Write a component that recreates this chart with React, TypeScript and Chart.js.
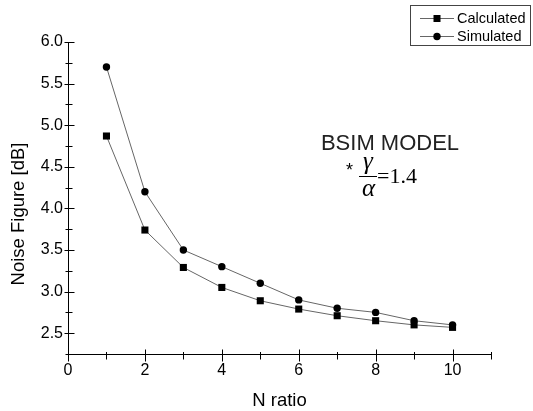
import React, { useEffect, useRef } from "react";
import { Chart, registerables } from "chart.js";

Chart.register(...registerables);

const nRatio = [1, 2, 3, 4, 5, 6, 7, 8, 9, 10];
const calculated = [4.87, 3.74, 3.29, 3.05, 2.89, 2.79, 2.71, 2.65, 2.6, 2.57];
const simulated = [5.7, 4.2, 3.5, 3.3, 3.1, 2.9, 2.8, 2.75, 2.65, 2.6];
const seriesNames = ["Calculated", "Simulated"];
const xTitle = "N ratio";
const yTitle = "Noise Figure [dB]";
const noteTitle = "BSIM MODEL";
const noteValue = "=1.4";

const SANS = "'Liberation Sans', Arial, sans-serif";
const SERIF = "'Liberation Serif', 'Times New Roman', serif";

const decorPlugin = {
  id: "decor",
  afterDraw(chart: any) {
    const ctx = chart.ctx as CanvasRenderingContext2D;
    const xs = chart.scales.x;
    const ys = chart.scales.y;
    const ax = Math.round(xs.left) + 0.5;
    const ay = Math.round(ys.bottom) + 0.5;
    ctx.save();
    ctx.strokeStyle = "#000";
    ctx.lineWidth = 1;
    // y ticks
    for (let v = 2.25; v <= 6.0001; v += 0.25) {
      const major = Math.abs(v * 2 - Math.round(v * 2)) < 1e-6;
      const py = Math.round(ys.getPixelForValue(v)) + 0.5;
      ctx.beginPath();
      if (major) {
        ctx.moveTo(ax - 4, py);
        ctx.lineTo(ax + 6, py);
      } else {
        ctx.moveTo(ax - 3, py);
        ctx.lineTo(ax + 4, py);
      }
      ctx.stroke();
    }
    // x ticks
    for (let v = 0; v <= 11; v += 1) {
      const major = v % 2 === 0;
      const px = Math.round(xs.getPixelForValue(v)) + 0.5;
      ctx.beginPath();
      if (major) {
        ctx.moveTo(px, ay - 5);
        ctx.lineTo(px, ay + 7);
      } else {
        ctx.moveTo(px, ay - 2.5);
        ctx.lineTo(px, ay + 5);
      }
      ctx.stroke();
    }
    // axis titles
    ctx.fillStyle = "#000";
    ctx.font = `18.5px ${SANS}`;
    ctx.textAlign = "center";
    ctx.textBaseline = "alphabetic";
    ctx.fillText(xTitle, (xs.left + xs.right) / 2, 406);
    ctx.save();
    ctx.translate(23.5, 214);
    ctx.rotate(-Math.PI / 2);
    ctx.fillText(yTitle, 0, 0);
    ctx.restore();

    // legend
    ctx.strokeStyle = "#444";
    ctx.strokeRect(410.5, 5.5, 120, 40);
    const rows = [18.5, 36.5];
    rows.forEach((ry, i) => {
      ctx.strokeStyle = "#666";
      ctx.beginPath();
      ctx.moveTo(420, ry);
      ctx.lineTo(454, ry);
      ctx.stroke();
      ctx.fillStyle = "#000";
      if (i === 0) {
        ctx.fillRect(433.5, ry - 3.5, 7, 7);
      } else {
        ctx.beginPath();
        ctx.arc(437, ry, 3.7, 0, Math.PI * 2);
        ctx.fill();
      }
      ctx.font = `14.5px ${SANS}`;
      ctx.textAlign = "left";
      ctx.textBaseline = "middle";
      ctx.fillText(seriesNames[i], 457, ry + 0.5);
    });

    // annotation
    ctx.fillStyle = "#222";
    ctx.textBaseline = "alphabetic";
    ctx.textAlign = "center";
    ctx.font = `22px ${SANS}`;
    ctx.fillText(noteTitle, 390, 150);
    ctx.fillStyle = "#000";
    ctx.font = `18px ${SANS}`;
    ctx.fillText("*", 349.5, 176);
    ctx.font = `italic 25px ${SERIF}`;
    ctx.fillText("\u03B3", 368, 169);
    ctx.fillText("\u03B1", 368.5, 196);
    ctx.strokeStyle = "#000";
    ctx.beginPath();
    ctx.moveTo(359, 176.5);
    ctx.lineTo(377, 176.5);
    ctx.stroke();
    ctx.textAlign = "left";
    ctx.font = `22px ${SERIF}`;
    ctx.fillText(noteValue, 377, 183);
    ctx.restore();
  },
};

export default function App() {
  const ref = useRef<HTMLCanvasElement>(null);
  useEffect(() => {
    if (!ref.current) return;
    const chart = new Chart(ref.current, {
      type: "line",
      data: {
        datasets: [
          {
            label: seriesNames[0],
            data: nRatio.map((x, i) => ({ x, y: calculated[i] })),
            borderColor: "#666",
            borderWidth: 1,
            pointStyle: "rect",
            pointRadius: 5,
            pointBackgroundColor: "#000",
            pointBorderColor: "#000",
            pointBorderWidth: 0,
            tension: 0,
          },
          {
            label: seriesNames[1],
            data: nRatio.map((x, i) => ({ x, y: simulated[i] })),
            borderColor: "#666",
            borderWidth: 1,
            pointStyle: "circle",
            pointRadius: 3.7,
            pointBackgroundColor: "#000",
            pointBorderColor: "#000",
            pointBorderWidth: 0,
            tension: 0,
          },
        ],
      },
      options: {
        responsive: false,
        animation: false,
        layout: { padding: { top: 42, right: 42, left: 0, bottom: 0 } },
        plugins: { legend: { display: false }, tooltip: { enabled: false } },
        scales: {
          x: {
            type: "linear",
            min: 0,
            max: 11,
            afterFit: (s: any) => {
              s.height = 57;
            },
            grid: { display: false, drawTicks: false },
            border: { display: true, color: "#000", width: 1 },
            ticks: {
              stepSize: 1,
              autoSkip: false,
              maxRotation: 0,
              padding: 7,
              color: "#000",
              font: { family: SANS, size: 16 },
              callback: (v: any) => (Number(v) % 2 === 0 ? String(v) : ""),
            },
          },
          y: {
            type: "linear",
            min: 2.25,
            max: 6.0,
            afterFit: (s: any) => {
              s.width = 68;
            },
            grid: { display: false, drawTicks: false },
            border: { display: true, color: "#000", width: 1 },
            ticks: {
              stepSize: 0.25,
              autoSkip: false,
              padding: 5,
              color: "#000",
              font: { family: SANS, size: 16 },
              callback: (v: any) => {
                const n = Number(v);
                return Math.abs(n * 2 - Math.round(n * 2)) < 1e-6 ? n.toFixed(1) : "";
              },
            },
          },
        },
      },
      plugins: [decorPlugin],
    } as any);
    return () => chart.destroy();
  }, []);
  return (
    <div style={{ position: "absolute", left: 0, top: 0, width: 533, height: 411, background: "#fff" }}>
      <canvas ref={ref} width={533} height={411} style={{ display: "block" }} />
    </div>
  );
}
